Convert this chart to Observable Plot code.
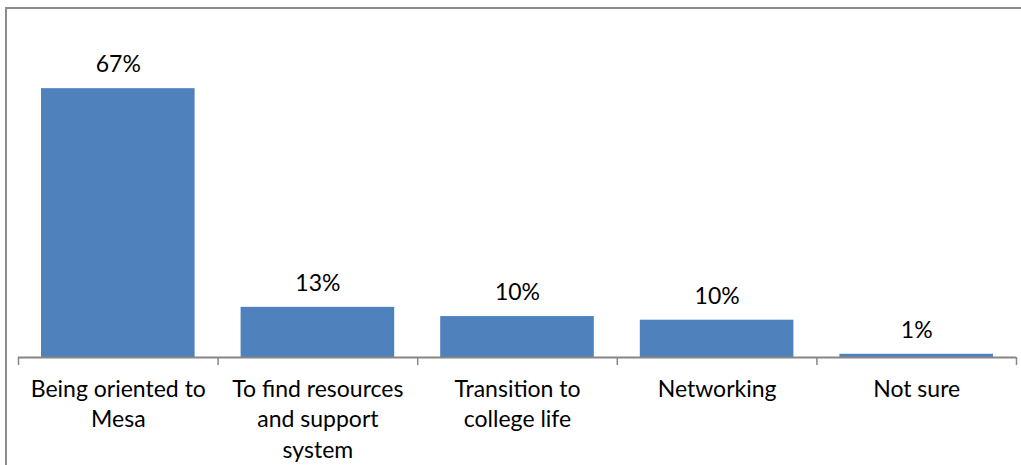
<!DOCTYPE html>
<html>
<head>
<meta charset="utf-8">
<script src="https://cdn.jsdelivr.net/npm/d3@7"></script>
<script src="https://cdn.jsdelivr.net/npm/@observablehq/plot@0.6"></script>
<style>
  html, body { margin: 0; padding: 0; background: #fff; }
  #wrap { position: relative; width: 1021px; height: 465px; overflow: hidden; }
  #border { position: absolute; left: 5px; top: 7px; width: 1040px; height: 480px;
            border: 2px solid #8c8c8c; box-sizing: border-box; }
  #chart { position: absolute; left: 0; top: 0; }
  svg { background: transparent !important; }
</style>
</head>
<body>
<div id="wrap"><div id="border"></div><div id="chart"></div></div>
<script>
const categories = ["Being oriented to\nMesa", "To find resources\nand support\nsystem", "Transition to\ncollege life", "Networking", "Not sure"];
const values = [67, 12.5, 10.2, 9.3, 0.8];
const valueLabels = ["67%", "13%", "10%", "10%", "1%"];

const data = categories.map((c, i) => ({i, c, v: values[i], lab: valueLabels[i]}));
const font = "Lato, 'Open Sans', sans-serif";

const plot = Plot.plot({
  width: 1021,
  height: 465,
  marginLeft: 18,
  marginRight: 5,
  marginTop: 36,
  marginBottom: 108,
  style: {fontFamily: font, background: "transparent"},
  x: {domain: [0, categories.length], axis: null},
  y: {domain: [0, 80], axis: null},
  marks: [
    Plot.rectY(data, {x1: "i", x2: d => d.i + 1, y: "v", fill: "#4F81BD", insetLeft: 23, insetRight: 23}),
    Plot.ruleY([0], {stroke: "#868686", strokeWidth: 2}),
    Plot.axisX({ticks: d3.range(categories.length + 1), tickSize: 8, tickFormat: () => "", label: null, stroke: "#868686", strokeWidth: 1.5}),
    Plot.text(data, {x: d => d.i + 0.5, y: "v", text: "lab", dy: -24, fontSize: 23, fill: "#000"}),
    Plot.text(data, {x: d => d.i + 0.5, y: 0, text: "c", lineAnchor: "top", dy: 18, fontSize: 23, lineHeight: 1.32, fill: "#000"})
  ]
});
document.getElementById("chart").appendChild(plot);
</script>
</body>
</html>
